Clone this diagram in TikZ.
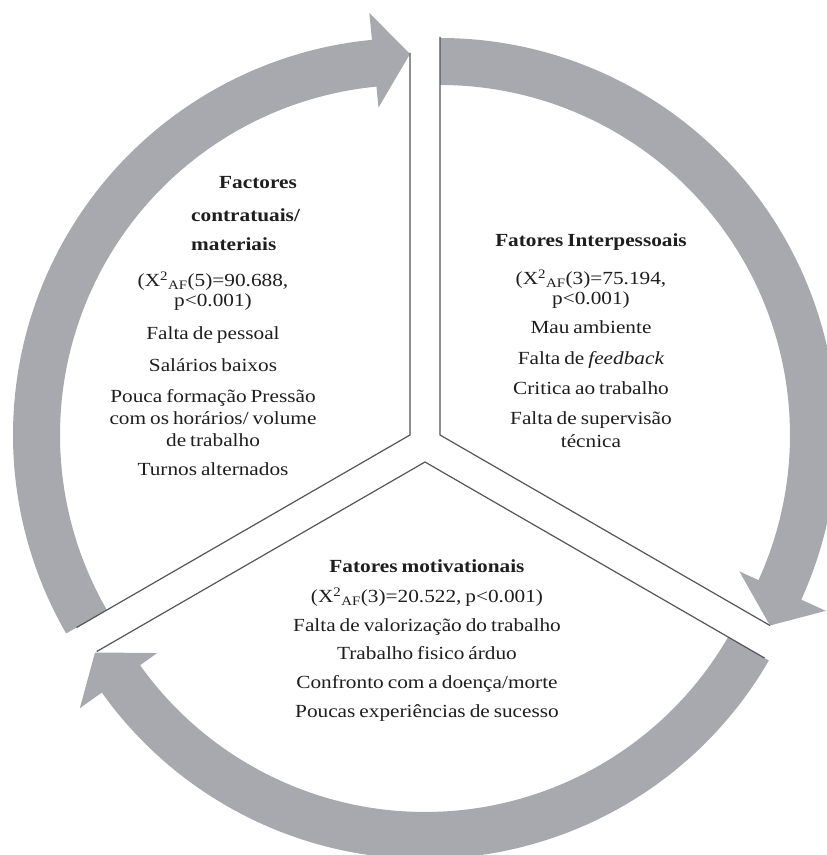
\documentclass[tikz,border=0pt]{standalone}
\usepackage{fontspec}
\setmainfont{Liberation Serif}[FakeStretch=1.15, WordSpace=0.75]
\usetikzlibrary{calc}
\definecolor{arrowgray}{RGB}{167,169,174}
\definecolor{edgegray}{RGB}{85,85,90}
\definecolor{txt}{RGB}{30,30,30}
\tikzset{
  ln/.style={anchor=base, inner sep=0pt, text=txt, font=\fontsize{18.5}{20}\selectfont},
  hd/.style={ln, font=\fontsize{18.5}{20}\selectfont\bfseries},
  band/.style={fill=arrowgray},
  edge/.style={draw=edgegray, line width=1.2pt, line join=miter}
}
\newcommand{\chiaf}[2]{(X\textsuperscript{2}\textsubscript{AF}(#1)=#2}
\begin{document}
\begin{tikzpicture}[x=1pt,y=1pt]
\clip (0,0) rectangle (827,855);
\fill[white] (0,0) rectangle (827,855);
\coordinate (L) at (410,420);
\coordinate (R) at (440,420);
\coordinate (B) at (425,393);
% arrows
\fill[band] ($(L)+(210:397)$) arc[start angle=210, end angle=95.5, radius=397]
  -- ($(L)+(95.5:424)$) -- ($(L)+(90:381)$) -- ($(L)+(95.5:329)$) -- ($(L)+(95.5:350)$)
  arc[start angle=95.5, end angle=210, radius=350] -- cycle;
\fill[band] ($(R)+(90:397)$) arc[start angle=90, end angle=-24.5, radius=397]
  -- ($(R)+(-24.5:424)$) -- ($(R)+(-30:381)$) -- ($(R)+(-24.5:329)$) -- ($(R)+(-24.5:350)$)
  arc[start angle=-24.5, end angle=90, radius=350] -- cycle;
\fill[band] ($(B)+(-30:397)$) arc[start angle=-30, end angle=-144.5, radius=397]
  -- ($(B)+(-144.5:424)$) -- ($(B)+(-150:381)$) -- ($(B)+(-144.5:329)$) -- ($(B)+(-144.5:350)$)
  arc[start angle=-144.5, end angle=-30, radius=350] -- cycle;
% sector edges
\draw[edge] ($(L)+(90:382)$) -- (L) -- ($(L)+(210:385)$);
\draw[edge] ($(R)+(90:398)$) -- (R) -- ($(R)+(-30:381)$);
\draw[edge] ($(B)+(-30:392)$) -- (B) -- ($(B)+(-150:379)$);
% left text
\node[hd, anchor=base west] (l1) at (219,666) {Factores};
\node[hd, anchor=base west] (l2) at (191,633) {contratuais/};
\node[hd, anchor=base west] (l3) at (191,604) {materiais};
\node[ln] (l4) at (213,568) {\chiaf{5}{90.688,}};
\node[ln] (l5) at (213,548) {p<0.001)};
\node[ln] (l6) at (213,515) {Falta de pessoal};
\node[ln] (l7) at (213,483) {Salários baixos};
\node[ln] (l8) at (213,452) {Pouca formação Pressão};
\node[ln] (l9) at (213,430) {com os horários/ volume};
\node[ln] (l10) at (213,408) {de trabalho};
\node[ln] (l11) at (213,379) {Turnos alternados};
% right text
\node[hd] (r1) at (591,608) {Fatores Interpessoais};
\node[ln] (r2) at (591,570) {\chiaf{3}{75.194,}};
\node[ln] (r3) at (591,550) {p<0.001)};
\node[ln] (r4) at (591,521) {Mau ambiente};
\node[ln] (r5) at (591,490) {Falta de \textit{feedback}};
\node[ln] (r6) at (591,460) {Critica ao trabalho};
\node[ln] (r7) at (591,430) {Falta de supervisão};
\node[ln] (r8) at (591,407) {técnica};
% bottom text
\node[hd] (b1) at (427,282) {Fatores motivationais};
\node[ln] (b2) at (427,252) {\chiaf{3}{20.522, p<0.001)}};
\node[ln] (b3) at (427,223) {Falta de valorização do trabalho};
\node[ln] (b4) at (427,195) {Trabalho fisico árduo};
\node[ln] (b5) at (427,166) {Confronto com a doença/morte};
\node[ln] (b6) at (427,137) {Poucas experiências de sucesso};
\end{tikzpicture}
\end{document}
